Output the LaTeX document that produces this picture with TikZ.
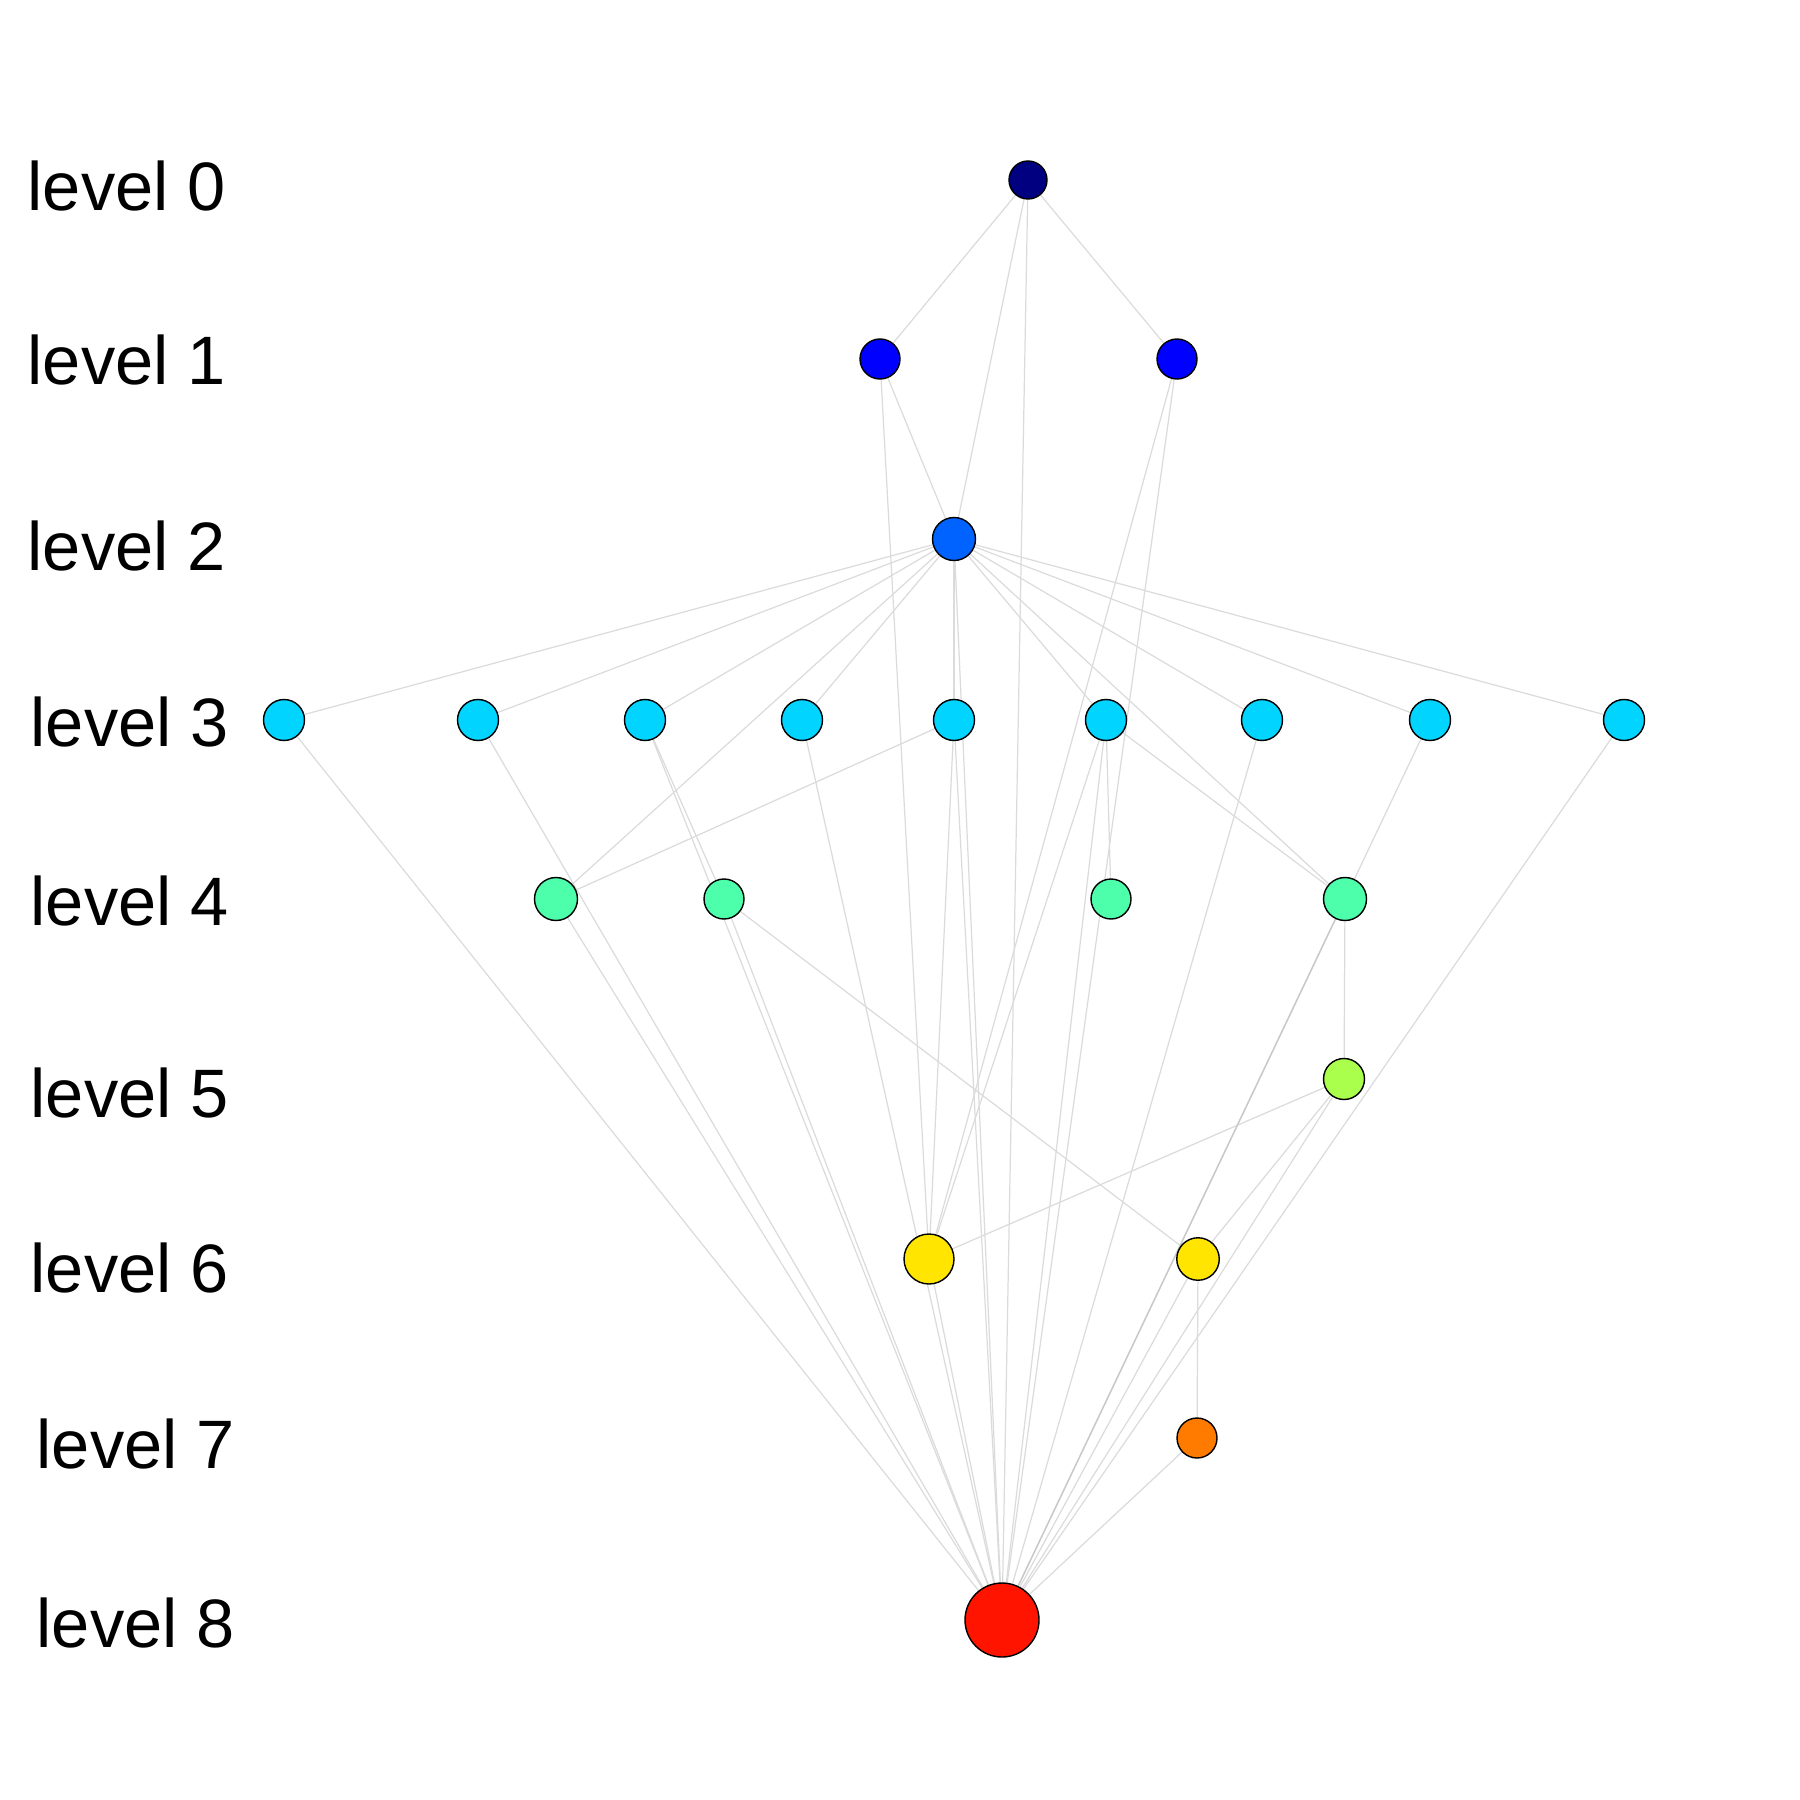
\documentclass[tikz,border=0pt]{standalone}
\usepackage{fontspec}
\setmainfont{Liberation Sans}
\usetikzlibrary{backgrounds}

\definecolor{lvzero}{RGB}{0,0,128}
\definecolor{lvone}{RGB}{0,0,255}
\definecolor{lvtwo}{RGB}{0,98,255}
\definecolor{lvthree}{RGB}{0,212,255}
\definecolor{lvfour}{RGB}{77,255,170}
\definecolor{lvfive}{RGB}{170,255,77}
\definecolor{lvsix}{RGB}{255,229,0}
\definecolor{lvseven}{RGB}{255,123,0}
\definecolor{lveight}{RGB}{255,20,0}

\begin{document}
\begin{tikzpicture}[x=0.1mm,y=-0.1mm,
  vertex/.style={circle,draw=black,line width=0.4pt,inner sep=0pt,minimum size=#1},
  vertex/.default=4.1mm,
  link/.style={draw=black!14,line width=0.35pt}]
  \useasboundingbox (0,0) rectangle (1800,1800);
  % niveles
  \foreach \i/\x/\y in {0/27/211,1/27/385,2/27/570,3/30/746,4/30/925,
                         5/30/1117,6/30/1292,7/36/1468,8/36/1647}
    \node[anchor=base west,inner sep=0pt,font=\fontsize{19.5}{23}\selectfont] (lab\i) at (\x,\y) {level \i};
  % nodos
  \node[vertex=3.8mm,fill=lvzero] (a) at (1028,180) {};
  \node[vertex=4mm,fill=lvone] (b1) at (880,359) {};
  \node[vertex=4mm,fill=lvone] (b2) at (1177,359) {};
  \node[vertex=4.3mm,fill=lvtwo] (c) at (954,539) {};
  \foreach \x [count=\k] in {284,478,645,802,954,1106,1262,1430,1624}
    \node[vertex,fill=lvthree] (d\k) at (\x,720) {};
  \node[vertex=4.3mm,fill=lvfour] (e1) at (556,899) {};
  \node[vertex=4mm,fill=lvfour] (e2) at (724,899) {};
  \node[vertex=4mm,fill=lvfour] (e3) at (1111,899) {};
  \node[vertex=4.3mm,fill=lvfour] (e4) at (1345,899) {};
  \node[vertex,fill=lvfive] (f) at (1344,1079) {};
  \node[vertex=5mm,fill=lvsix] (g1) at (929,1259) {};
  \node[vertex=4.25mm,fill=lvsix] (g2) at (1198,1259) {};
  \node[vertex=4mm,fill=lvseven] (h) at (1197,1438) {};
  \node[vertex=7.4mm,fill=lveight] (z) at (1002,1620) {};
  % aristas
  \begin{scope}[on background layer]
    \foreach \k in {1,...,9} \draw[link] (c) -- (d\k);
    \foreach \s/\t in {a/b1,a/b2,a/c,a/z,b1/c,b1/g1,b2/g1,b2/z,c/e1,c/e4,c/z,
                       d1/z,d2/z,d3/e2,d3/z,d4/z,d5/e1,d5/g1,d5/z,d6/e3,d6/e4,d6/g1,d6/z,
                       d7/z,d8/z,d9/z,e1/z,e2/g2,e2/z,e4/f,f/g1,f/g2,f/z,
                       g1/z,g2/h,g2/z,h/z}
      \draw[link] (\s) -- (\t);
    \draw[link,draw=black!21,line width=0.4pt] (e4) -- (z);
  \end{scope}
\end{tikzpicture}
\end{document}
